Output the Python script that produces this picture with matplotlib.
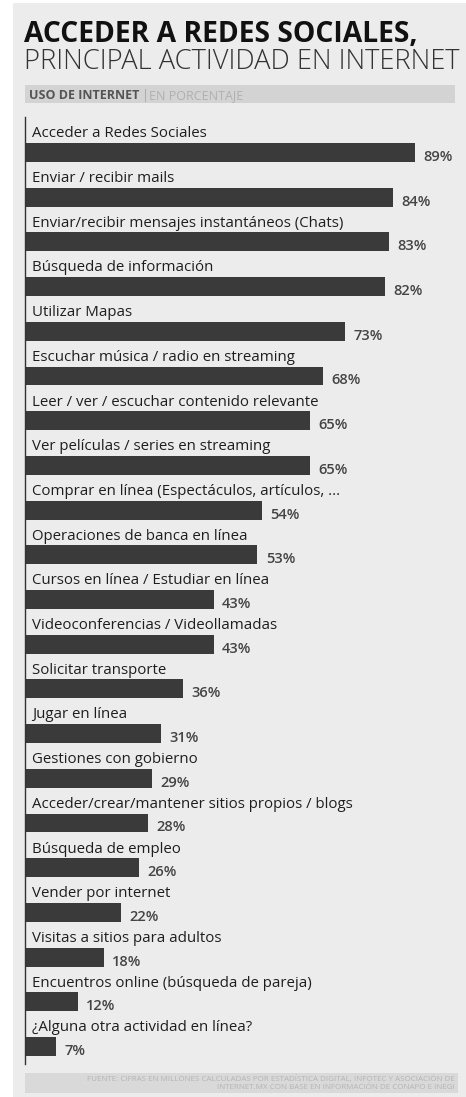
import matplotlib.pyplot as plt
from matplotlib.patches import Rectangle

actividades = [
    "Acceder a Redes Sociales",
    "Enviar / recibir mails",
    "Enviar/recibir mensajes instantáneos (Chats)",
    "Búsqueda de información",
    "Utilizar Mapas",
    "Escuchar música / radio en streaming",
    "Leer / ver / escuchar contenido relevante",
    "Ver películas / series en streaming",
    "Comprar en línea (Espectáculos, artículos, ...",
    "Operaciones de banca en línea",
    "Cursos en línea / Estudiar en línea",
    "Videoconferencias / Videollamadas",
    "Solicitar transporte",
    "Jugar en línea",
    "Gestiones con gobierno",
    "Acceder/crear/mantener sitios propios / blogs",
    "Búsqueda de empleo",
    "Vender por internet",
    "Visitas a sitios para adultos",
    "Encuentros online (búsqueda de pareja)",
    "¿Alguna otra actividad en línea?",
]
porcentajes = [89, 84, 83, 82, 73, 68, 65, 65, 54, 53, 43, 43, 36, 31, 29, 28, 26, 22, 18, 12, 7]

titulo_1 = "ACCEDER A REDES SOCIALES,"
titulo_2 = "PRINCIPAL ACTIVIDAD EN INTERNET"
fuente = ("FUENTE: CIFRAS EN MILLONES CALCULADAS POR ESTADÍSTICA DIGITAL, INFOTEC Y ASOCIACIÓN DE\n"
          "INTERNET.MX CON BASE EN INFORMACIÓN DE CONAPO E INEGI")

FONDO = "#ececec"
BARRA = "#3a3a3a"
plt.rcParams['font.family'] = ['Open Sans', 'DejaVu Sans']

W, H = 466, 1097
fig = plt.figure(figsize=(W / 100, H / 100), dpi=100)
fig.patch.set_facecolor("white")

def fx(px):
    return px / W

def fy(py):
    return 1 - py / H

# panel gris
fig.patches.append(Rectangle((fx(13), 0), fx(W - 13), fy(3), transform=fig.transFigure,
                             facecolor=FONDO, edgecolor="none", zorder=-2))

fig.text(fx(24), fy(42), titulo_1, fontsize=20.3, fontweight="bold", color="#111111", va="baseline")
fig.text(fx(24), fy(69), titulo_2, fontsize=19.6, fontweight="light", color="#333333", va="baseline")

# franja subtitulo
fig.patches.append(Rectangle((fx(25), fy(103)), fx(430), 18 / H, transform=fig.transFigure,
                             facecolor="#d3d3d3", edgecolor="none", zorder=-1))
fig.text(fx(29), fy(99), "USO DE INTERNET", fontsize=9, fontweight="bold",
         color="#555555", va="baseline")
fig.text(fx(142), fy(99), "|", fontsize=9, color="#a8a8a8", va="baseline")
fig.text(fx(149), fy(99), "EN PORCENTAJE", fontsize=9, color="#b0b0b0", va="baseline")

# franja fuente
fig.patches.append(Rectangle((fx(25), fy(1093)), fx(433), 20 / H, transform=fig.transFigure,
                             facecolor="#d9d9d9", edgecolor="none", zorder=-1))
fig.text(fx(455), fy(1083), fuente, fontsize=5.8, color="#b5b5b5", ha="right", va="center",
         linespacing=1.1)

# ejes de barras
px_por_pct = 4.385
fila = 44.7
y_top, y_bot = 117, 1064
ax = fig.add_axes([fx(25), fy(y_bot), fx(W - 25), (y_bot - y_top) / H])
ax.set_zorder(2)
ax.set_facecolor("none")
n = len(actividades)
pos = list(range(n))
ax.barh(pos, porcentajes, height=0.425, color=BARRA, edgecolor="none")
ax.set_xlim(0, (W - 25) / px_por_pct)
ax.set_ylim((y_bot - 152.5) / fila, -(152.5 - y_top) / fila)

for i, (nombre, v) in enumerate(zip(actividades, porcentajes)):
    ax.text(1.6, i - 0.25, nombre, fontsize=10.8, color="#1e1e1e", va="bottom", ha="left")
    ax.annotate(f"{v}%", xy=(v, i + 0.1), xytext=(6, 0), textcoords="offset points",
                fontsize=10.5, fontweight="semibold", color="#444444", va="center", ha="left")

for s in ["top", "right", "bottom"]:
    ax.spines[s].set_visible(False)
ax.spines["left"].set_color("#333333")
ax.spines["left"].set_linewidth(1)
ax.set_xticks([])
ax.set_yticks([])

fig.savefig("out.png", dpi=100, facecolor=fig.get_facecolor())
